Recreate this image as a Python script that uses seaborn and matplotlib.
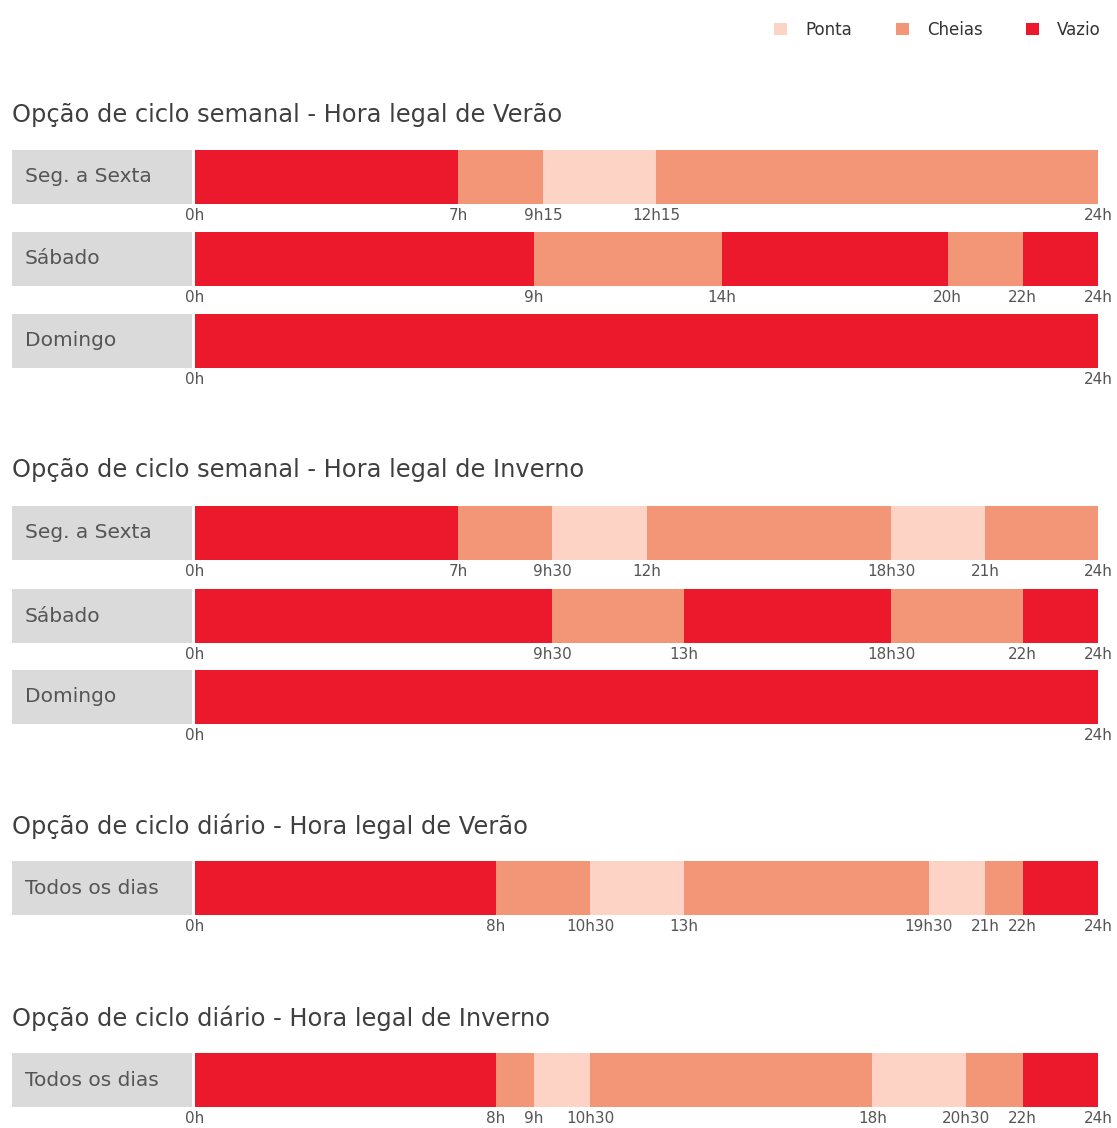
import matplotlib
matplotlib.use("Agg")
import matplotlib.pyplot as plt
import seaborn as sns
from matplotlib.patches import Patch

sns.set_theme(style="white")
plt.rcParams["font.family"] = ["DejaVu Sans"]

# ---------------- data ----------------
categories = ["Ponta", "Cheias", "Vazio"]
cat_colors = ["#FDD3C5", "#F39677", "#EC192D"]

section_titles = [
    "Opção de ciclo semanal - Hora legal de Verão",
    "Opção de ciclo semanal - Hora legal de Inverno",
    "Opção de ciclo diário - Hora legal de Verão",
    "Opção de ciclo diário - Hora legal de Inverno",
]

# Semanal - Verão
sv_labels = ["Seg. a Sexta", "Sábado", "Domingo"]
sv_seg_ends = [7, 9.25, 12.25, 24]
sv_seg_cats = ["Vazio", "Cheias", "Ponta", "Cheias"]
sv_seg_ticks = ["0h", "7h", "9h15", "12h15", "24h"]
sv_sab_ends = [9, 14, 20, 22, 24]
sv_sab_cats = ["Vazio", "Cheias", "Vazio", "Cheias", "Vazio"]
sv_sab_ticks = ["0h", "9h", "14h", "20h", "22h", "24h"]
sv_dom_ends = [24]
sv_dom_cats = ["Vazio"]
sv_dom_ticks = ["0h", "24h"]

# Semanal - Inverno
si_labels = ["Seg. a Sexta", "Sábado", "Domingo"]
si_seg_ends = [7, 9.5, 12, 18.5, 21, 24]
si_seg_cats = ["Vazio", "Cheias", "Ponta", "Cheias", "Ponta", "Cheias"]
si_seg_ticks = ["0h", "7h", "9h30", "12h", "18h30", "21h", "24h"]
si_sab_ends = [9.5, 13, 18.5, 22, 24]
si_sab_cats = ["Vazio", "Cheias", "Vazio", "Cheias", "Vazio"]
si_sab_ticks = ["0h", "9h30", "13h", "18h30", "22h", "24h"]
si_dom_ends = [24]
si_dom_cats = ["Vazio"]
si_dom_ticks = ["0h", "24h"]

# Diário - Verão
dv_label = "Todos os dias"
dv_ends = [8, 10.5, 13, 19.5, 21, 22, 24]
dv_cats = ["Vazio", "Cheias", "Ponta", "Cheias", "Ponta", "Cheias", "Vazio"]
dv_ticks = ["0h", "8h", "10h30", "13h", "19h30", "21h", "22h", "24h"]

# Diário - Inverno
di_label = "Todos os dias"
di_ends = [8, 9, 10.5, 18, 20.5, 22, 24]
di_cats = ["Vazio", "Cheias", "Ponta", "Cheias", "Ponta", "Cheias", "Vazio"]
di_ticks = ["0h", "8h", "9h", "10h30", "18h", "20h30", "22h", "24h"]

# ---------------- layout ----------------
W, H = 1117, 1128
fig = plt.figure(figsize=(W / 100, H / 100), dpi=100)
fig.patch.set_facecolor("white")

color_of = dict(zip(categories, cat_colors))
TITLE_C = "#3f3f3f"
TEXT_C = "#555555"
GREY = "#DADADA"

def px_axes(x0, y0, x1, y1):
    return fig.add_axes([x0 / W, 1 - y1 / H, (x1 - x0) / W, (y1 - y0) / H])

def draw_row(label, ends, cats, ticks, ytop):
    ybot = ytop + 54
    lab = px_axes(12, ytop, 192, ybot)
    lab.set_facecolor(GREY)
    lab.set_xticks([]); lab.set_yticks([])
    for s in lab.spines.values():
        s.set_visible(False)
    lab.text(13 / 180, 0.5, label, transform=lab.transAxes, ha="left", va="center",
             fontsize=14.5, color=TEXT_C)

    ax = px_axes(195, ytop, 1098, ybot)
    # overlay bars from longest to shortest -> stacked look
    for end, cat in reversed(list(zip(ends, cats))):
        sns.barplot(x=[end], y=[label], color=color_of[cat], saturation=1,
                    width=1, linewidth=0, errorbar=None, orient="h", ax=ax)
    ax.set_xlim(0, 24)
    ax.set_ylim(0.5, -0.5)
    for s in ax.spines.values():
        s.set_visible(False)
    ax.set_ylabel(""); ax.set_xlabel("")
    ax.set_yticks([])
    bounds = [0] + list(ends)
    ax.set_xticks(bounds)
    ax.set_xticklabels(ticks, fontsize=11, color=TEXT_C)
    ax.tick_params(axis="x", length=0, pad=3)
    ax.set_facecolor("white")
    ax.grid(False)

def title(text, yc):
    fig.text(12 / W, 1 - yc / H, text, ha="left", va="center", fontsize=17.4, color=TITLE_C)

title(section_titles[0], 115)
draw_row(sv_labels[0], sv_seg_ends, sv_seg_cats, sv_seg_ticks, 150)
draw_row(sv_labels[1], sv_sab_ends, sv_sab_cats, sv_sab_ticks, 232)
draw_row(sv_labels[2], sv_dom_ends, sv_dom_cats, sv_dom_ticks, 314)

title(section_titles[1], 470)
draw_row(si_labels[0], si_seg_ends, si_seg_cats, si_seg_ticks, 506)
draw_row(si_labels[1], si_sab_ends, si_sab_cats, si_sab_ticks, 589)
draw_row(si_labels[2], si_dom_ends, si_dom_cats, si_dom_ticks, 670)

title(section_titles[2], 826)
draw_row(dv_label, dv_ends, dv_cats, dv_ticks, 861)

title(section_titles[3], 1018)
draw_row(di_label, di_ends, di_cats, di_ticks, 1053)

handles = [Patch(facecolor=c, edgecolor="none", label=n) for n, c in zip(categories, cat_colors)]
leg = fig.legend(handles=handles, loc="upper right", bbox_to_anchor=(1101 / W, 1 - 21 / H),
                 ncol=3, frameon=False, fontsize=12, handlelength=0.78, handleheight=0.78,
                 handletextpad=1.1, columnspacing=2.6, borderpad=0, borderaxespad=0)
for t in leg.get_texts():
    t.set_color("#333333")

fig.savefig("out.png", dpi=100, facecolor="white")
